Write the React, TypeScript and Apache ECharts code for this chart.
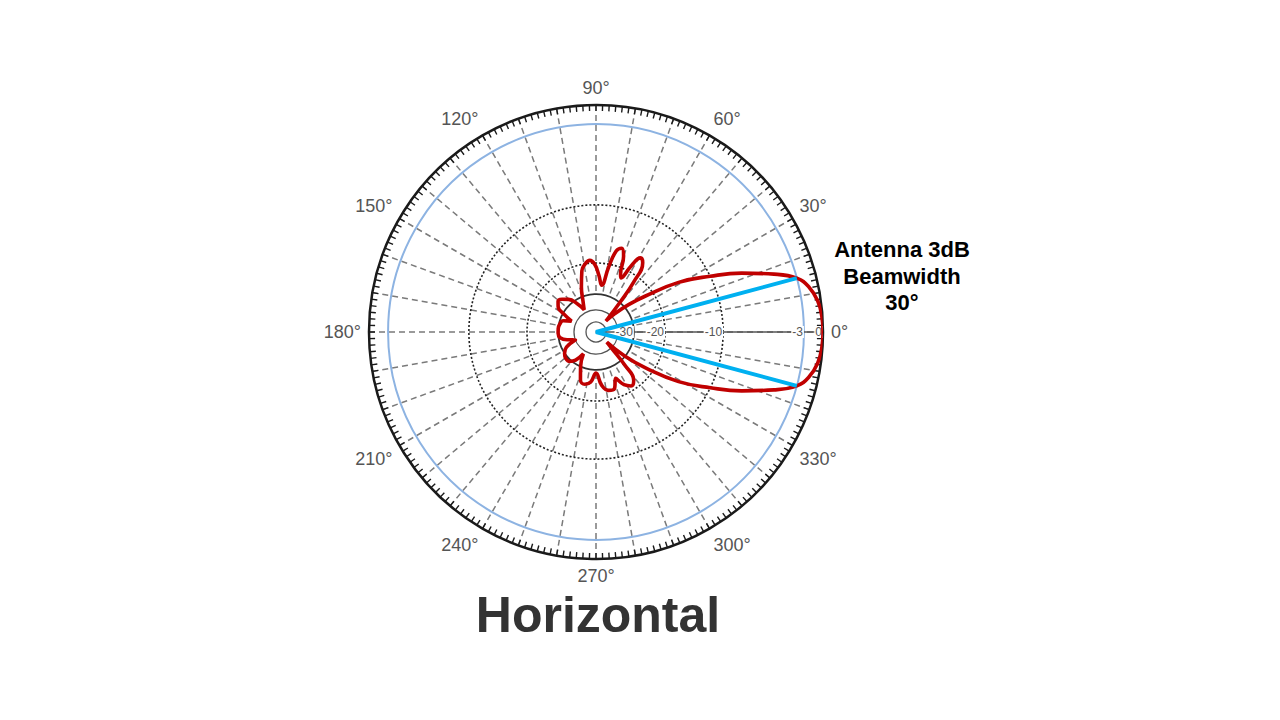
import { useEffect, useRef } from "react";
import * as echarts from "echarts";

// ---- axis definitions ----
const ANGLE_LABEL_STEP = 30;
const SPOKE_STEP = 10;
// radial (dB) axis of the antenna chart: dB stop -> fraction of outer radius
const RADIAL_DB = [-50, -40, -30, -20, -10, -3, 0];
const RADIAL_POS = [0.044, 0.097, 0.167, 0.304, 0.56, 0.916, 1];
const RADIAL_LABEL_DB = [-30, -20, -10, -3, 0];
const THIN_RING_DB = [-50, -40];
const INNER_RING_DB = [-30];
const DOTTED_RING_DB = [-20, -10];
const BLUE_RING_DB = [-3];

// ---- beamwidth annotation ----
const BEAM_HALF_WIDTH = 15;
const BEAM_EDGE_DB = -3;

// ---- horizontal radiation pattern (angle in degrees, gain in dB) ----
const PATTERN_ANGLE = [
  0, 4, 8, 12, 15, 18, 22, 26, 31, 36, 40, 44, 48,
  51, 53, 56, 59, 62, 65, 67, 70, 73, 76, 79, 83, 87, 91, 95, 99, 103, 108, 113, 118,
  124, 130, 136, 141, 146, 151, 156,
  161, 168, 175, 182, 189, 195, 201,
  207, 214, 221, 228, 234, 240,
  246, 252, 258, 264, 270, 276, 282, 288, 293, 298, 303, 308, 311, 314,
  317, 320, 324, 329, 334, 338, 342, 345, 348, 352, 356, 360,
];
const PATTERN_DB = [
  0, -0.1, -0.5, -1.5, -3, -4.8, -7.4, -10, -15.3, -22.5, -28.5, -37, -46,
  -30, -22, -17.5, -17, -19, -23, -22, -18, -16.8, -17.5, -21, -27, -24, -20.5, -19.5, -20, -22, -27, -33, -38,
  -32, -28.5, -27, -26.5, -27.5, -31, -37,
  -32, -30.5, -30, -30, -31, -35, -40,
  -33, -30, -29.3, -29.5, -32, -38,
  -30, -26, -25, -26, -29, -25, -23, -23, -26, -23, -21.5, -22.5, -28, -40,
  -46, -30, -22.5, -15.3, -10, -7.4, -4.8, -3, -1.5, -0.5, -0.1, 0,
];

const TITLE = "Horizontal";
const NOTE = "Antenna 3dB\nBeamwidth\n30°";

function radial(db: number): number {
  if (db <= RADIAL_DB[0]) {
    return Math.max(0, (RADIAL_POS[0] * (db - (RADIAL_DB[0] - 10))) / 10);
  }
  for (let i = 1; i < RADIAL_DB.length; i++) {
    if (db <= RADIAL_DB[i]) {
      const t = (db - RADIAL_DB[i - 1]) / (RADIAL_DB[i] - RADIAL_DB[i - 1]);
      return RADIAL_POS[i - 1] + t * (RADIAL_POS[i] - RADIAL_POS[i - 1]);
    }
  }
  return 1;
}

function dbLabel(v: number): string {
  let best = 0;
  let bd = Infinity;
  RADIAL_LABEL_DB.forEach((d, i) => {
    const dist = Math.abs(radial(d) - v);
    if (dist < bd) {
      bd = dist;
      best = i;
    }
  });
  return String(RADIAL_LABEL_DB[best]);
}

export default function App() {
  const ref = useRef<HTMLDivElement>(null);

  useEffect(() => {
    if (!ref.current) return;
    const chart = echarts.init(ref.current, null, { renderer: "svg" });
    const CX = 596;
    const CY = 332;
    const R = 227;
    const FONT = "'Liberation Sans', Arial, sans-serif";

    const ringPolar = (radius: any) => ({ center: [CX, CY], radius });
    const hiddenAngle = (i: number) => ({
      polarIndex: i,
      type: "value",
      min: 0,
      max: 360,
      startAngle: 0,
      clockwise: false,
      show: false,
    });
    const ringRadius = (i: number, dbs: number[], lineStyle: any, z: number) => ({
      polarIndex: i,
      type: "value",
      min: 0,
      max: 1,
      z,
      axisLine: { show: false },
      axisTick: { show: false, customValues: dbs.map(radial) },
      axisLabel: { show: false },
      splitLine: { show: true, lineStyle },
    });

    chart.setOption({
      animation: false,
      backgroundColor: "#ffffff",
      polar: [
        ringPolar(R), // 0: data + outer ring + labels
        ringPolar([R * radial(-30), R]), // 1: spokes
        ringPolar(R), // 2: thin inner rings
        ringPolar(R), // 3: dotted rings
        ringPolar(R), // 4: blue ring
        ringPolar(R), // 5: -30 dB ring
      ],
      angleAxis: [
        {
          polarIndex: 0,
          type: "value",
          min: 0,
          max: 360,
          interval: SPOKE_STEP,
          startAngle: 0,
          clockwise: false,
          z: 3,
          axisLine: { show: true, lineStyle: { color: "#1a1a1a", width: 2.5 } },
          axisTick: {
            show: true,
            inside: true,
            length: 6,
            lineStyle: { color: "#1a1a1a", width: 1.4 },
          },
          minorTick: {
            show: true,
            splitNumber: 6,
            length: 6,
            lineStyle: { color: "#1a1a1a", width: 1.4 },
          },
          axisLabel: {
            margin: 8,
            fontSize: 18,
            fontFamily: FONT,
            color: "#555555",
            formatter: (v: number) =>
              v % ANGLE_LABEL_STEP === 0 && v < 360 ? `${v}°` : "",
          },
          splitLine: { show: false },
        },
        {
          polarIndex: 1,
          type: "value",
          min: 0,
          max: 360,
          interval: SPOKE_STEP,
          startAngle: 0,
          clockwise: false,
          z: 0,
          axisLine: { show: false },
          axisTick: { show: false },
          axisLabel: { show: false },
          splitLine: {
            show: true,
            lineStyle: { color: "#7a7a7a", width: 1.5, type: [6, 4] },
          },
        },
        hiddenAngle(2),
        hiddenAngle(3),
        hiddenAngle(4),
        hiddenAngle(5),
      ],
      radiusAxis: [
        {
          polarIndex: 0,
          type: "value",
          min: 0,
          max: 1,
          z: 3,
          axisLine: { show: true, lineStyle: { color: "#555555", width: 1.5 } },
          axisTick: { show: false },
          axisLabel: {
            show: true,
            customValues: RADIAL_LABEL_DB.map(radial),
            formatter: (v: number) => dbLabel(v),
            fontSize: 12,
            fontFamily: FONT,
            color: "#555555",
            backgroundColor: "#ffffff",
            padding: [0, 1],
            margin: 0,
            align: "right",
            verticalAlign: "middle",
          },
          splitLine: { show: false },
        },
        { polarIndex: 1, type: "value", min: 0, max: 1, show: false },
        ringRadius(2, THIN_RING_DB, { color: "#555555", width: 1.3, type: "solid" }, 1),
        ringRadius(3, DOTTED_RING_DB, { color: "#222222", width: 1.6, type: [2, 2] }, 1),
        ringRadius(4, BLUE_RING_DB, { color: "#8db3e2", width: 2, type: "solid" }, 1),
        ringRadius(5, INNER_RING_DB, { color: "#333333", width: 1.8, type: "solid" }, 1),
      ],
      series: [
        {
          name: "Pattern",
          type: "line",
          coordinateSystem: "polar",
          polarIndex: 0,
          smooth: 0.45,
          symbol: "none",
          z: 5,
          lineStyle: { color: "#c00000", width: 3.6 },
          data: PATTERN_ANGLE.map((a, i) => [radial(PATTERN_DB[i]), a]),
        },
        {
          name: "Beamwidth",
          type: "line",
          coordinateSystem: "polar",
          polarIndex: 0,
          symbol: "none",
          z: 6,
          lineStyle: { color: "#00b0f0", width: 4 },
          data: [
            [radial(BEAM_EDGE_DB), BEAM_HALF_WIDTH],
            [0, 0],
            [radial(BEAM_EDGE_DB), 360 - BEAM_HALF_WIDTH],
          ],
        },
      ],
      graphic: [
        {
          type: "text",
          x: 598,
          y: 615,
          z: 10,
          style: {
            text: TITLE,
            fontFamily: FONT,
            fontWeight: "bold",
            fontSize: 50,
            lineHeight: 38,
            fill: "#333333",
            align: "center",
            verticalAlign: "middle",
          },
        },
        {
          type: "text",
          x: 902,
          y: 276,
          z: 10,
          style: {
            text: NOTE,
            fontFamily: FONT,
            fontWeight: "bold",
            fontSize: 22,
            lineHeight: 26.5,
            fill: "#000000",
            align: "center",
            verticalAlign: "middle",
          },
        },
      ],
    });

    return () => chart.dispose();
  }, []);

  return (
    <div
      ref={ref}
      style={{ position: "fixed", left: 0, top: 0, width: 1280, height: 720, background: "#fff" }}
    />
  );
}
